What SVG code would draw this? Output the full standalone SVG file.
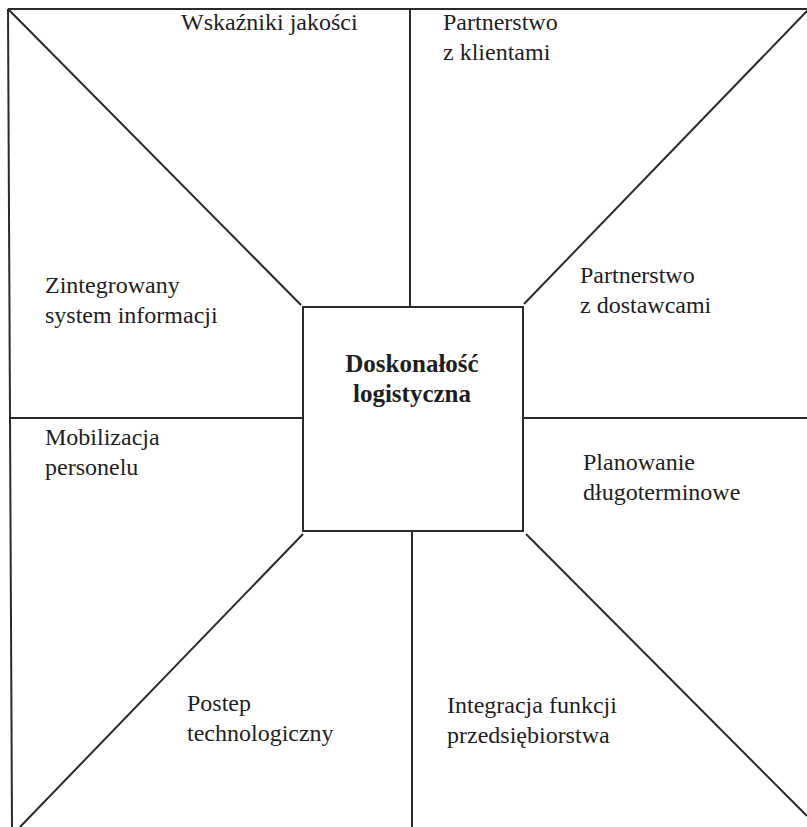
<svg xmlns="http://www.w3.org/2000/svg" width="807" height="827" viewBox="0 0 807 827">
  <style>
    .ln { stroke: #2a2a2a; stroke-width: 2; fill: none; stroke-linecap: butt; }
    .lbl { font-family: "Liberation Serif", "Times New Roman", serif; font-size: 24px; fill: #1e1e1e; }
    .core { font-family: "Liberation Serif", "Times New Roman", serif; font-size: 25px; font-weight: bold; fill: #1e1e1e; text-anchor: middle; }
  </style>
  <rect width="807" height="827" fill="#ffffff"/>

  <!-- frame and spokes -->
  <g id="connectors">
    <line class="ln" x1="8" y1="9" x2="807" y2="9"/>
    <line class="ln" x1="8" y1="9" x2="12" y2="827"/>
    <line class="ln" x1="410" y1="9" x2="410" y2="307"/>
    <line class="ln" x1="412" y1="531" x2="412" y2="827"/>
    <line class="ln" x1="9" y1="418" x2="303" y2="418"/>
    <line class="ln" x1="523" y1="418" x2="807" y2="418"/>
    <line class="ln" x1="9" y1="10" x2="301" y2="305"/>
    <line class="ln" x1="807" y1="11" x2="524" y2="304"/>
    <line class="ln" x1="20" y1="827" x2="303" y2="534"/>
    <line class="ln" x1="807" y1="816" x2="526" y2="534"/>
  </g>

  <!-- central node -->
  <g id="center">
    <rect class="ln" x="303" y="307" width="220" height="224"/>
    <text class="core" x="412" y="372">Doskonałość</text>
    <text class="core" x="412" y="402">logistyczna</text>
  </g>

  <g id="wskazniki">
    <text class="lbl" x="181" y="30">Wskaźniki jakości</text>
  </g>
  <g id="partnerstwo-klienci">
    <text class="lbl" x="443" y="30">Partnerstwo</text>
    <text class="lbl" x="443" y="60">z klientami</text>
  </g>
  <g id="system-informacji">
    <text class="lbl" x="45" y="293">Zintegrowany</text>
    <text class="lbl" x="45" y="323">system informacji</text>
  </g>
  <g id="partnerstwo-dostawcy">
    <text class="lbl" x="580" y="283">Partnerstwo</text>
    <text class="lbl" x="580" y="313">z dostawcami</text>
  </g>
  <g id="mobilizacja">
    <text class="lbl" x="45" y="445">Mobilizacja</text>
    <text class="lbl" x="45" y="475">personelu</text>
  </g>
  <g id="planowanie">
    <text class="lbl" x="583" y="470">Planowanie</text>
    <text class="lbl" x="583" y="500">długoterminowe</text>
  </g>
  <g id="postep">
    <text class="lbl" x="187" y="711">Postep</text>
    <text class="lbl" x="187" y="741">technologiczny</text>
  </g>
  <g id="integracja">
    <text class="lbl" x="447" y="713">Integracja funkcji</text>
    <text class="lbl" x="447" y="743">przedsiębiorstwa</text>
  </g>
</svg>
